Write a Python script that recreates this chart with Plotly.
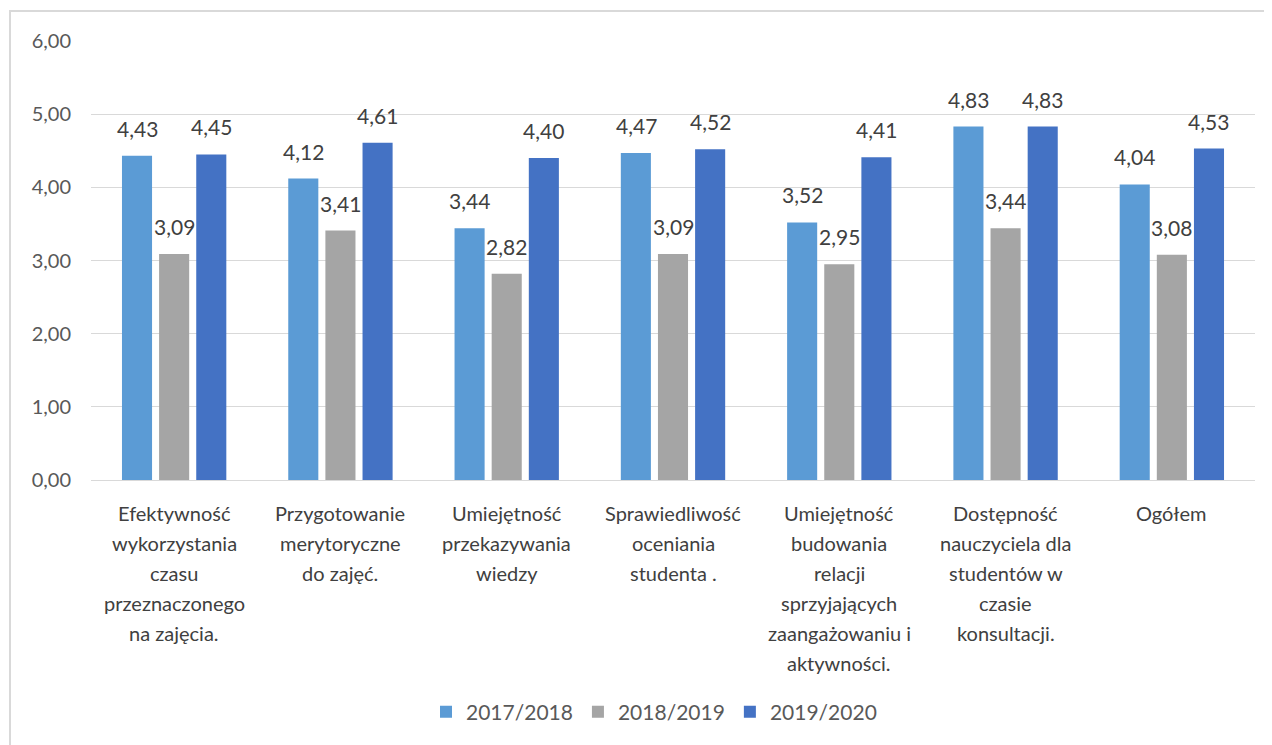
import plotly.graph_objects as go

categories = [
    "Efektywność wykorzystania czasu przeznaczonego na zajęcia.",
    "Przygotowanie merytoryczne do zajęć.",
    "Umiejętność przekazywania wiedzy",
    "Sprawiedliwość oceniania studenta .",
    "Umiejętność budowania relacji sprzyjających zaangażowaniu i aktywności.",
    "Dostępność nauczyciela dla studentów w czasie konsultacji.",
    "Ogółem",
]
category_lines = [
    ["Efektywność", "wykorzystania", "czasu", "przeznaczonego", "na zajęcia."],
    ["Przygotowanie", "merytoryczne", "do zajęć."],
    ["Umiejętność", "przekazywania", "wiedzy"],
    ["Sprawiedliwość", "oceniania", "studenta ."],
    ["Umiejętność", "budowania", "relacji", "sprzyjających", "zaangażowaniu i", "aktywności."],
    ["Dostępność", "nauczyciela dla", "studentów w", "czasie", "konsultacji."],
    ["Ogółem"],
]
series_names = ["2017/2018", "2018/2019", "2019/2020"]
v_2017_2018 = [4.43, 4.12, 3.44, 4.47, 3.52, 4.83, 4.04]
v_2018_2019 = [3.09, 3.41, 2.82, 3.09, 2.95, 3.44, 3.08]
v_2019_2020 = [4.45, 4.61, 4.40, 4.52, 4.41, 4.83, 4.53]
series_values = [v_2017_2018, v_2018_2019, v_2019_2020]
colors = ["#5B9BD5", "#A5A5A5", "#4472C4"]
y_ticks = [0, 1, 2, 3, 4, 5, 6]

FONT = "Lato"
OFF = 8  # page body margin
W, H = 1272 - OFF, 745 - OFF
PL, PR, PT, PB = 91, 1255, 41, 480
ML, MR, MT, MB = PL - OFF, W - (PR - OFF), PT - OFF, H - (PB - OFF)

fig = go.Figure()
for name, vals, col in zip(series_names, series_values, colors):
    fig.add_trace(go.Bar(
        x=categories, y=vals, name=name,
        marker=dict(color=col, line=dict(width=0)),
    ))

annotations = []
offsets = [-37, 0, 37]
for vals, off in zip(series_values, offsets):
    for c, v in zip(categories, vals):
        annotations.append(dict(
            x=c, y=v, xref="x", yref="y", xshift=off, yshift=13,
            text=f"{v:.2f}".replace(".", ","), showarrow=False,
            yanchor="bottom", font=dict(family=FONT, size=21, color="#404040"),
        ))
for c, lines in zip(categories, category_lines):
    for i, ln in enumerate(lines):
        annotations.append(dict(
            x=c, y=0, xref="x", yref="paper", yshift=-19 - 30 * i,
            text=ln, showarrow=False, yanchor="top",
            font=dict(family=FONT, size=20, color="#404040"),
        ))

plot_w = W - ML - MR
plot_h = H - MT - MB

def px_x(p):
    return (p - PL) / plot_w

def px_y(p):
    return (PB - p) / plot_h

fig.update_layout(
    width=W, height=H,
    margin=dict(l=ML, r=MR, t=MT, b=MB),
    paper_bgcolor="white", plot_bgcolor="white",
    separators=",.",
    barmode="group", bargap=0.33, bargroupgap=0.19,
    font=dict(family=FONT, color="#595959"),
    xaxis=dict(showticklabels=False, showgrid=False, zeroline=False,
               showline=False, ticks=""),
    yaxis=dict(range=[0, 6], tickvals=y_ticks, tickformat=".2f",
               showgrid=True, gridcolor="#D9D9D9", gridwidth=1.3,
               zeroline=True, zerolinecolor="#D9D9D9", zerolinewidth=1.3,
               ticks="", ticklabelstandoff=19,
               tickfont=dict(family=FONT, size=20, color="#595959")),
    legend=dict(orientation="h", x=px_x(654), xanchor="center",
                y=px_y(712), yanchor="middle",
                font=dict(family=FONT, size=21, color="#595959"),
                itemwidth=30, traceorder="normal"),
    annotations=annotations,
    shapes=[dict(type="rect", xref="paper", yref="paper",
                 x0=px_x(10), x1=px_x(1270), y0=px_y(770), y1=px_y(11),
                 line=dict(color="#D9D9D9", width=2), layer="below")],
)

fig.write_html("out.html")
